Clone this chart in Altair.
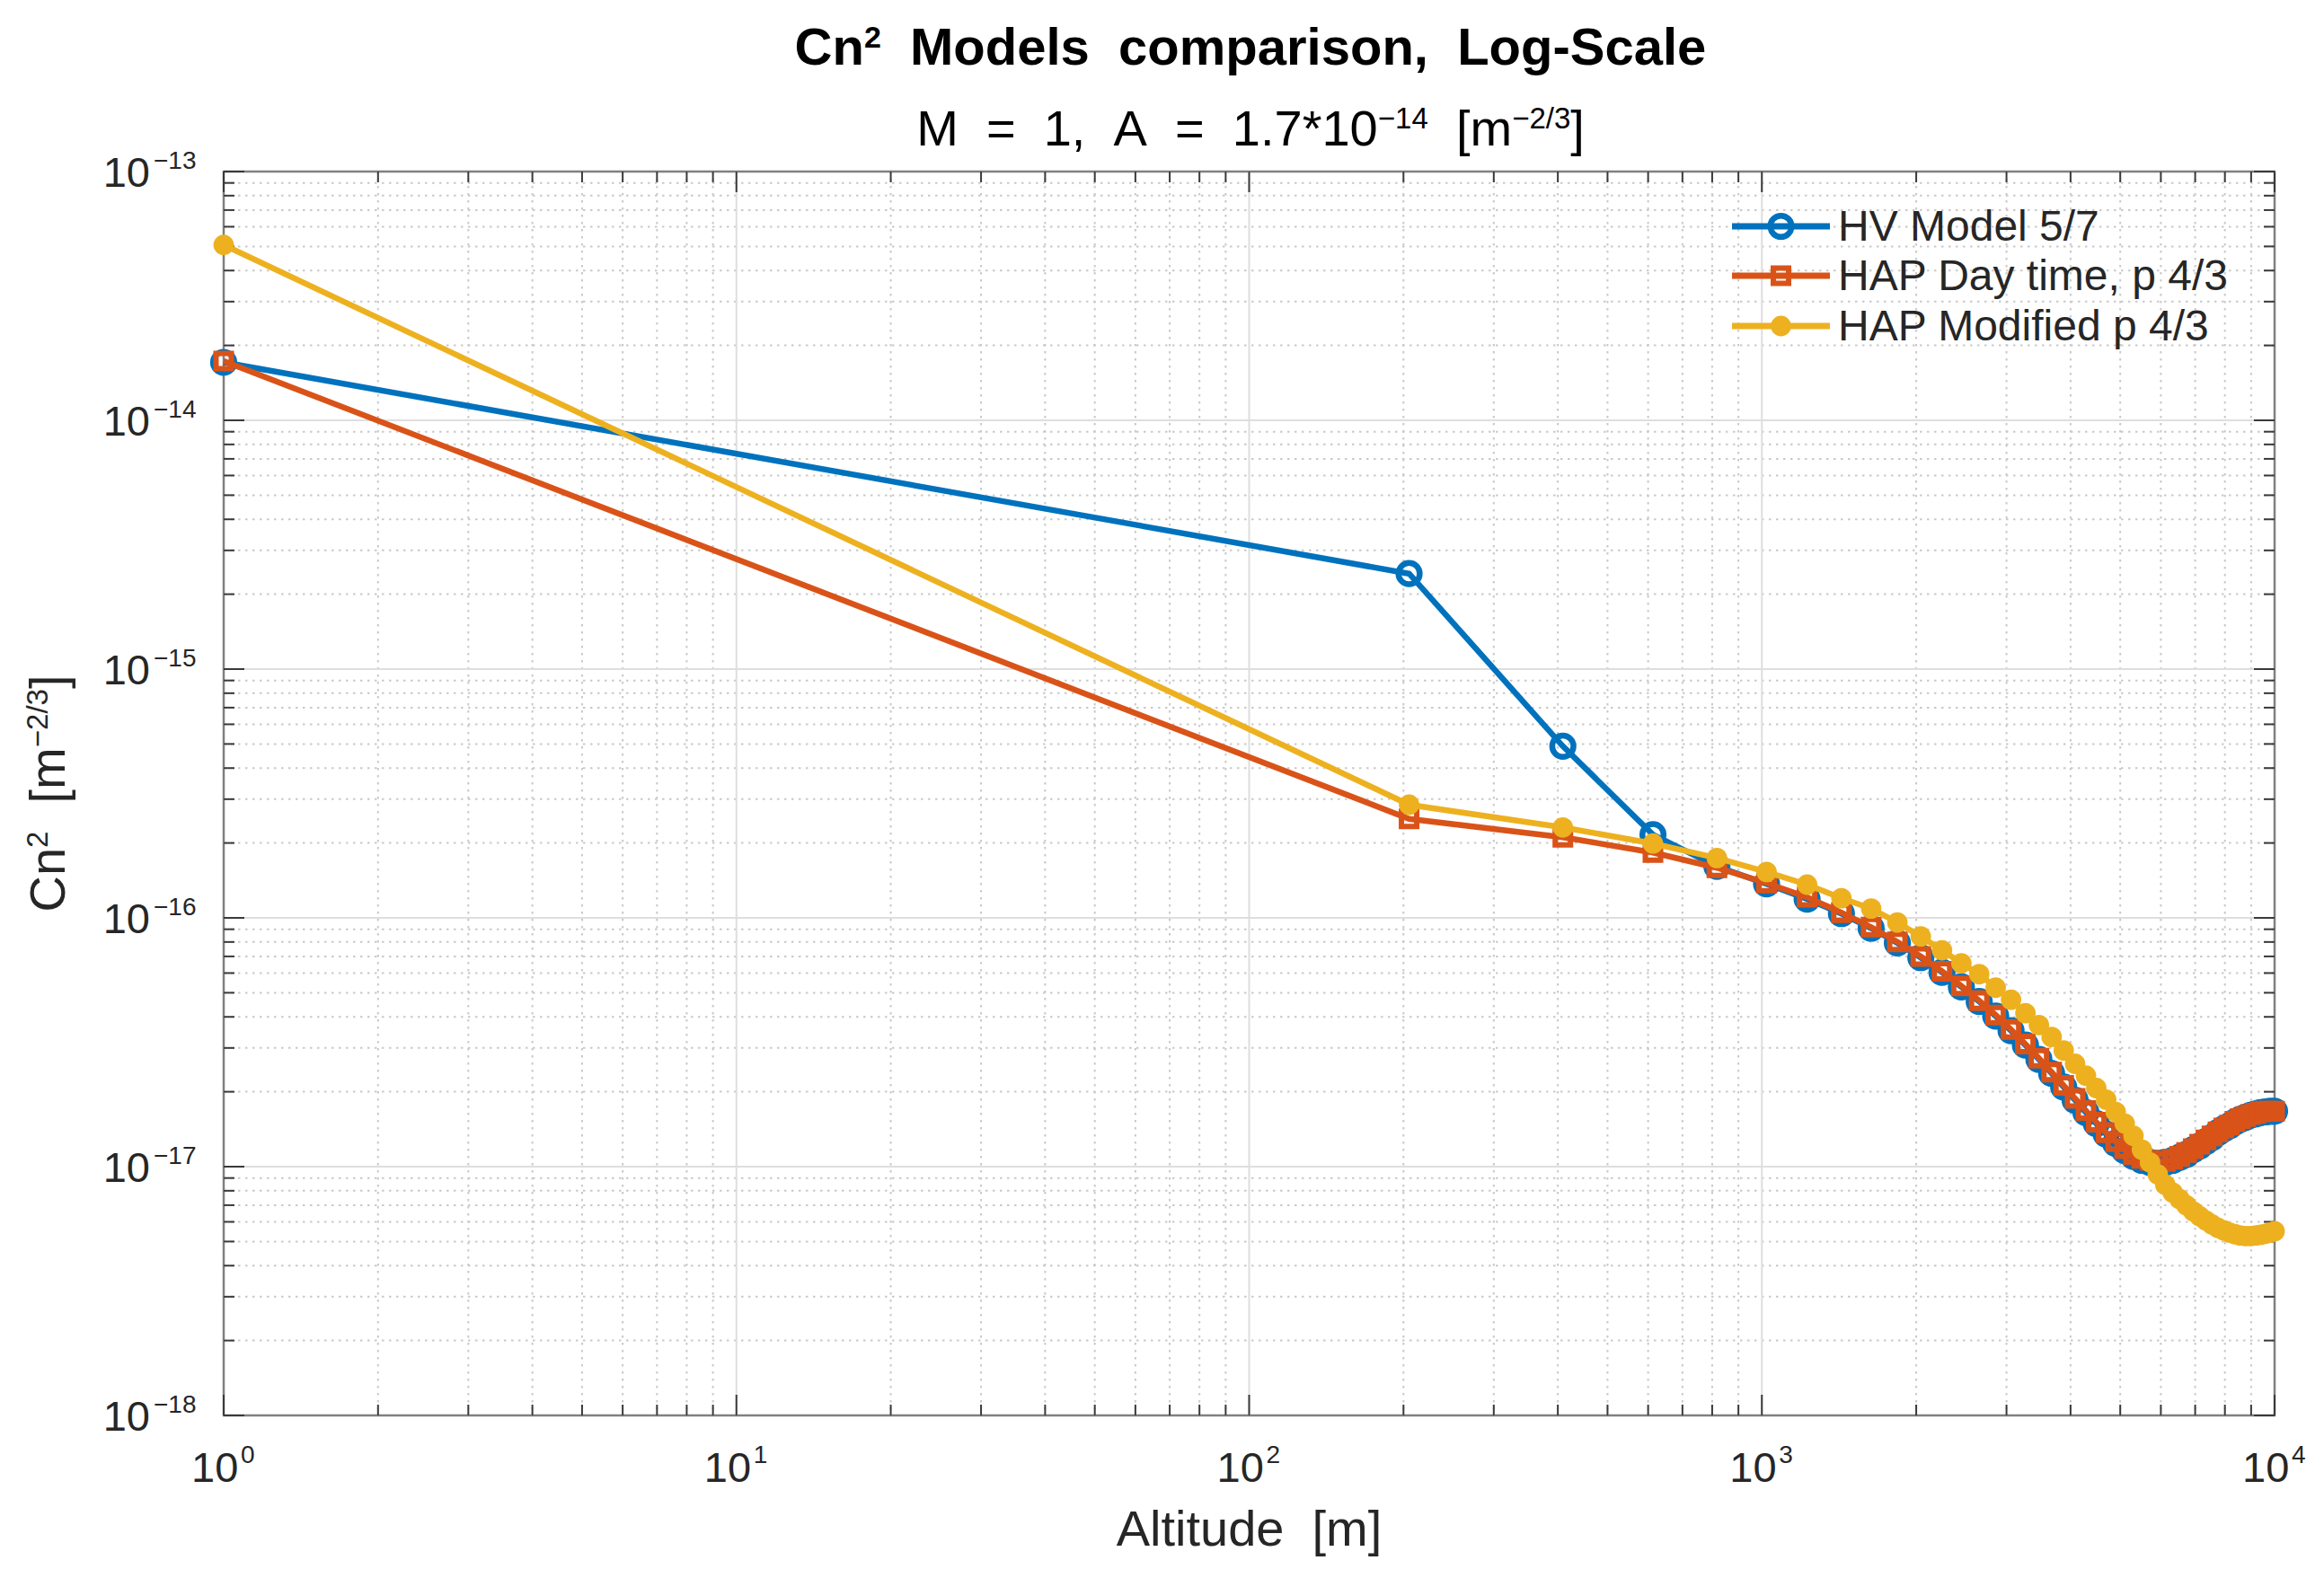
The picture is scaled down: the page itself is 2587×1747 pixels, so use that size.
import altair as alt
import pandas as pd

# altitude samples (m) and the three Cn2 profiles
altitude = [1, 205.1, 409.1, 613.2, 817.2, 1021.3, 1225.4, 1429.4, 1633.5, 1837.6,
            2041.6, 2245.7, 2449.7, 2653.8, 2857.9, 3061.9, 3266.0, 3470.0, 3674.1, 3878.2,
            4082.2, 4286.3, 4490.3, 4694.4, 4898.5, 5102.5, 5306.6, 5510.7, 5714.7, 5918.8,
            6122.8, 6326.9, 6531.0, 6735.0, 6939.1, 7143.1, 7347.2, 7551.3, 7755.3, 7959.4,
            8163.4, 8367.5, 8571.6, 8775.6, 8979.7, 9183.7, 9387.8, 9591.9, 9795.9, 10000]

hv_model = [1.71e-14, 2.42e-15, 4.90e-16, 2.16e-16, 1.61e-16, 1.37e-16, 1.19e-16, 1.04e-16, 9.09e-17, 7.93e-17,
            6.92e-17, 6.04e-17, 5.28e-17, 4.61e-17, 4.03e-17, 3.52e-17, 3.08e-17, 2.70e-17, 2.37e-17, 2.09e-17,
            1.85e-17, 1.65e-17, 1.49e-17, 1.35e-17, 1.24e-17, 1.16e-17, 1.10e-17, 1.06e-17, 1.04e-17, 1.03e-17,
            1.04e-17, 1.06e-17, 1.09e-17, 1.12e-17, 1.17e-17, 1.21e-17, 1.26e-17, 1.31e-17, 1.37e-17, 1.42e-17,
            1.46e-17, 1.51e-17, 1.55e-17, 1.58e-17, 1.61e-17, 1.63e-17, 1.65e-17, 1.66e-17, 1.67e-17, 1.67e-17]

hap_day = [1.73e-14, 2.50e-16, 2.11e-16, 1.83e-16, 1.59e-16, 1.38e-16, 1.21e-16, 1.05e-16, 9.18e-17, 8.01e-17,
           6.99e-17, 6.10e-17, 5.33e-17, 4.65e-17, 4.07e-17, 3.56e-17, 3.11e-17, 2.73e-17, 2.40e-17, 2.12e-17,
           1.88e-17, 1.68e-17, 1.51e-17, 1.37e-17, 1.26e-17, 1.18e-17, 1.12e-17, 1.08e-17, 1.06e-17, 1.05e-17,
           1.05e-17, 1.07e-17, 1.10e-17, 1.14e-17, 1.18e-17, 1.23e-17, 1.28e-17, 1.33e-17, 1.38e-17, 1.43e-17,
           1.47e-17, 1.52e-17, 1.56e-17, 1.59e-17, 1.62e-17, 1.64e-17, 1.66e-17, 1.67e-17, 1.67e-17, 1.67e-17]

hap_modified = [5.07e-14, 2.85e-16, 2.31e-16, 1.99e-16, 1.74e-16, 1.53e-16, 1.36e-16, 1.20e-16, 1.09e-16, 9.58e-17,
                8.42e-17, 7.41e-17, 6.57e-17, 5.94e-17, 5.24e-17, 4.69e-17, 4.14e-17, 3.71e-17, 3.32e-17, 2.93e-17,
                2.59e-17, 2.32e-17, 2.07e-17, 1.86e-17, 1.66e-17, 1.49e-17, 1.33e-17, 1.17e-17, 1.04e-17, 9.30e-18,
                8.45e-18, 7.87e-18, 7.40e-18, 6.98e-18, 6.61e-18, 6.32e-18, 6.07e-18, 5.85e-18, 5.67e-18, 5.55e-18,
                5.43e-18, 5.35e-18, 5.29e-18, 5.26e-18, 5.26e-18, 5.29e-18, 5.32e-18, 5.37e-18, 5.43e-18, 5.50e-18]

series_names = ["HV Model 5/7", "HAP Day time, p 4/3", "HAP Modified p 4/3"]
series_colors = ["#0072BD", "#D95319", "#EDB120"]

x_major = [1, 10, 100, 1000, 10000]
x_major_exp = ["0", "1", "2", "3", "4"]
y_major = [1e-18, 1e-17, 1e-16, 1e-15, 1e-14, 1e-13]
y_major_exp = ["\u221218", "\u221217", "\u221216", "\u221215", "\u221214", "\u221213"]
x_minor = [m * 10 ** e for e in range(4) for m in range(2, 10)]
y_minor = [m * 10.0 ** e for e in range(-18, -13) for m in range(2, 10)]

W, H = 2283, 1385
FONT = "Liberation Sans"
TXT = "#262626"
NB = "\u00a0"

xs = alt.Scale(type="log", domain=[1, 10000], nice=False)
ys = alt.Scale(type="log", domain=[1e-18, 1e-13], nice=False)

one = pd.DataFrame({"k": [0]})

# Arial / Liberation Sans advance widths, used to place the superscript runs
REG = {" ": 278, NB: 278, "[": 278, "]": 278, "A": 667, "C": 722, "M": 833, "l": 222, "t": 278,
       "i": 222, "u": 556, "d": 556, "e": 556, "m": 833, "n": 556, "=": 584, ",": 278, ".": 278,
       "*": 389, "/": 278, "\u2212": 584}
BOLD = {" ": 278, NB: 278, "C": 722, "n": 611, "M": 833, "o": 611, "d": 611, "e": 556, "l": 278,
        "s": 556, "c": 556, "m": 889, "p": 611, "a": 556, "r": 389, "i": 278, ",": 278, "L": 611,
        "g": 611, "-": 333, "S": 667}


def text_width(s, size, bold):
    table = BOLD if bold else REG
    return sum(table.get(ch, 556) for ch in s) * size / 1000


def text_run(pieces, x, y, angle=0, color=TXT):
    total = sum(text_width(t, s, b) for t, s, b, r in pieces)
    pos = -total / 2
    out = []
    for t, s, b, r in pieces:
        # leading blanks get dropped by the renderer, so skip over them by hand
        lead = len(t) - len(t.lstrip(NB))
        pos += text_width(t[:lead], s, b)
        t = t[lead:]
        if angle == 0:
            px, py = x + pos, y - r
        else:
            px, py = x - r, y - pos
        out.append(alt.Chart(one).mark_text(
            text=t, font=FONT, fontSize=s, fontWeight="bold" if b else "normal",
            align="left", baseline="alphabetic", angle=angle, color=color
        ).encode(x=alt.value(px), y=alt.value(py)))
        pos += text_width(t, s, b)
    return out


def vrules(values, y0, y1, color, width, dash=None):
    style = dict(color=color, strokeWidth=width)
    if dash:
        style["strokeDash"] = dash
    return alt.Chart(pd.DataFrame({"v": values})).mark_rule(**style).encode(
        x=alt.X("v:Q", scale=xs, axis=None), y=alt.value(y0), y2=alt.value(y1))


def hrules(values, x0, x1, color, width, dash=None):
    style = dict(color=color, strokeWidth=width)
    if dash:
        style["strokeDash"] = dash
    return alt.Chart(pd.DataFrame({"v": values})).mark_rule(**style).encode(
        y=alt.Y("v:Q", scale=ys, axis=None), x=alt.value(x0), x2=alt.value(x1))


layers = []

# grid
layers.append(vrules(x_minor, 0, H, "#c9c9c9", 2, [2.5, 5.5]))
layers.append(hrules(y_minor, 0, W, "#c9c9c9", 2, [2.5, 5.5]))
layers.append(vrules(x_major[1:-1], 0, H, "#dedede", 2))
layers.append(hrules(y_major[1:-1], 0, W, "#dedede", 2))

# inward ticks on all four sides
TICK = "#3a3a3a"
layers.append(vrules(x_major, H, H - 23, TICK, 2))
layers.append(vrules(x_minor, H, H - 12, TICK, 2))
layers.append(vrules(x_major, 0, 23, TICK, 2))
layers.append(vrules(x_minor, 0, 12, TICK, 2))
layers.append(hrules(y_major, 0, 23, TICK, 2))
layers.append(hrules(y_minor, 0, 12, TICK, 2))
layers.append(hrules(y_major, W, W - 23, TICK, 2))
layers.append(hrules(y_minor, W, W - 12, TICK, 2))

markers = [
    dict(shape="circle", filled=False, size=560, strokeWidth=6.5),
    dict(shape="square", filled=False, size=290, strokeWidth=6),
    dict(shape="circle", filled=True, size=520, strokeWidth=0),
]

for name, color, vals, mk in zip(series_names, series_colors,
                                 [hv_model, hap_day, hap_modified], markers):
    df = pd.DataFrame({"altitude": altitude, "cn2": vals, "model": name})
    enc = dict(x=alt.X("altitude:Q", scale=xs, axis=None),
               y=alt.Y("cn2:Q", scale=ys, axis=None))
    layers.append(alt.Chart(df).mark_line(color=color, strokeWidth=6.5).encode(**enc))
    layers.append(alt.Chart(df).mark_point(color=color, opacity=1, **mk).encode(**enc))

# legend (no box, as in the figure)
legend_rows = [61, 116, 172]
for name, color, mk, ry in zip(series_names, series_colors, markers, legend_rows):
    leg = alt.Chart(pd.DataFrame({"label": [name]}))
    layers.append(leg.mark_rule(color=color, strokeWidth=7).encode(
        x=alt.value(1679), x2=alt.value(1788), y=alt.value(ry)))
    layers.append(leg.mark_point(color=color, opacity=1, **mk).encode(
        x=alt.value(1733.5), y=alt.value(ry)))
    layers.append(leg.mark_text(font=FONT, fontSize=48, align="left", baseline="middle",
                                color=TXT).encode(
        x=alt.value(1797), y=alt.value(ry + 2), text="label:N"))

# tick labels 10^n
xlab = pd.DataFrame({"v": x_major, "e": x_major_exp})
layers.append(alt.Chart(xlab).mark_text(text="10", font=FONT, fontSize=47, align="left",
                                        baseline="alphabetic", dx=-36, color=TXT).encode(
    x=alt.X("v:Q", scale=xs, axis=None), y=alt.value(H + 74)))
layers.append(alt.Chart(xlab).mark_text(font=FONT, fontSize=28, align="left",
                                        baseline="alphabetic", dx=19, color=TXT).encode(
    x=alt.X("v:Q", scale=xs, axis=None), y=alt.value(H + 53), text="e:N"))

ylab = pd.DataFrame({"v": y_major, "e": y_major_exp})
layers.append(alt.Chart(ylab).mark_text(text="10", font=FONT, fontSize=47, align="right",
                                        baseline="alphabetic", dy=17, color=TXT).encode(
    y=alt.Y("v:Q", scale=ys, axis=None), x=alt.value(-82)))
layers.append(alt.Chart(ylab).mark_text(font=FONT, fontSize=28, align="left",
                                        baseline="alphabetic", dy=-3.5, color=TXT).encode(
    y=alt.Y("v:Q", scale=ys, axis=None), x=alt.value(-78), text="e:N"))

# titles
RAISE = 19
layers += text_run([("Cn", 58, True, 0), ("2", 34, True, RAISE),
                    (NB * 2 + "Models" + NB * 2 + "comparison," + NB * 2 + "Log-Scale", 58, True, 0)],
                   1143, -119, color="#000000")
layers += text_run([("M" + NB * 2 + "=" + NB * 2 + "1," + NB * 2 + "A" + NB * 2 + "=" + NB * 2 + "1.7*10", 56, False, 0),
                    ("\u221214", 33, False, RAISE),
                    (NB * 2 + "[m", 56, False, 0),
                    ("\u22122/3", 33, False, RAISE),
                    ("]", 56, False, 0)],
                   1143, -29, color="#000000")
layers += text_run([("Altitude" + NB * 2 + "[m]", 56, False, 0)], W / 2, H + 145)
layers += text_run([("Cn", 56, False, 0), ("2", 33, False, RAISE),
                    (NB * 2 + "[m", 56, False, 0), ("\u22122/3", 33, False, RAISE),
                    ("]", 56, False, 0)],
                   -177, H / 2, angle=270)

chart = alt.layer(*layers).properties(
    width=W,
    height=H,
    padding={"left": 241, "top": 183, "right": 47, "bottom": 163},
    autosize=alt.AutoSizeParams(type="none"),
).configure_view(
    stroke="#808080",
    strokeWidth=2.5
)

chart.save("out.html", embed_options={"renderer": "svg", "actions": False})
